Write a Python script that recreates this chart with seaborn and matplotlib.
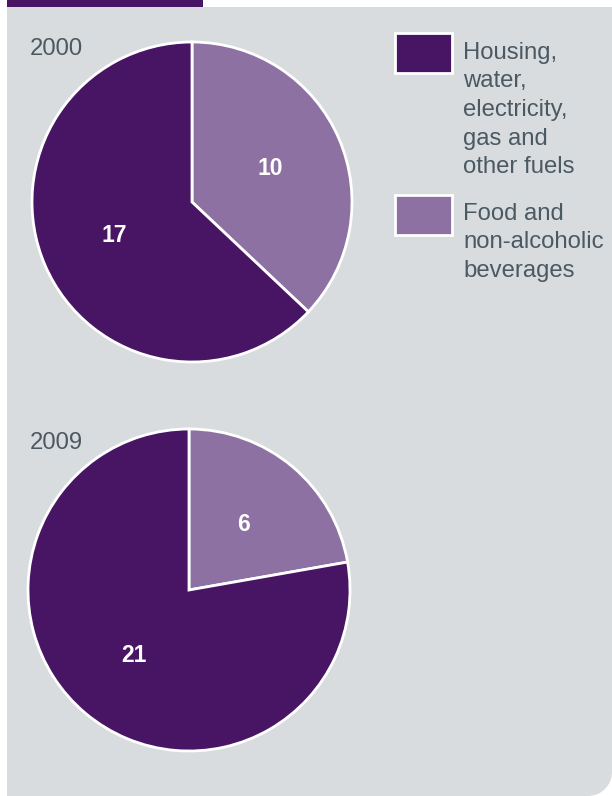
import numpy as np
import matplotlib
matplotlib.use("Agg")
import matplotlib.pyplot as plt
import seaborn as sns
from matplotlib.patches import Rectangle, PathPatch
from matplotlib.path import Path

# ---- data ----
years = ["2000", "2009"]
housing = [17, 21]
food = [10, 6]
categories = ["Housing,\nwater,\nelectricity,\ngas and\nother fuels",
              "Food and\nnon-alcoholic\nbeverages"]

DARK = "#481564"
LIGHT = "#8e71a3"
GREY = "#d9dcdf"
TEXT = "#4b5962"

sns.set_style("white")
plt.rcParams['font.family'] = ['Liberation Sans', 'DejaVu Sans']
palette = sns.color_palette([LIGHT, DARK])

W, H = 612, 796
fig = plt.figure(figsize=(W / 100, H / 100), dpi=100)
fig.patch.set_facecolor("white")


def fx(x):
    return x / W


def fy(y):
    return 1 - y / H


# background panel with rounded bottom-right corner
r = 24
left, top, right, bottom = 7, 7, W, H
verts = [(left, top), (right, top), (right, bottom - r)]
for a in np.linspace(0, -np.pi / 2, 20)[1:]:
    verts.append((right - r + r * np.cos(a), bottom - r - r * np.sin(a)))
verts += [(left, bottom), (left, top)]
verts = [(fx(x), fy(y)) for x, y in verts]
codes = [Path.MOVETO] + [Path.LINETO] * (len(verts) - 2) + [Path.CLOSEPOLY]
fig.patches.append(PathPatch(Path(verts, codes), transform=fig.transFigure,
                             facecolor=GREY, edgecolor="none", zorder=-10))
# top purple bar
fig.patches.append(Rectangle((fx(7), fy(6.5)), fx(203) - fx(7), fy(0) - fy(6.5),
                             transform=fig.transFigure, facecolor=DARK,
                             edgecolor="none", zorder=-9))

centers = [(192, 202, 160), (189, 590, 161)]
label_pos = [(30, 55), (30, 449)]

for i, (cx, cy, rad) in enumerate(centers):
    ax = fig.add_axes([fx(cx - rad), fy(cy + rad), 2 * rad / W, 2 * rad / H])
    ax.set_facecolor("none")
    vals = [food[i], housing[i]]
    wedges, texts = ax.pie(vals, colors=palette, startangle=90, counterclock=False,
                           labels=[str(v) for v in vals], labeldistance=0.53,
                           wedgeprops=dict(edgecolor="white", linewidth=2.0),
                           textprops=dict(color="white", fontsize=16.5,
                                          fontweight="bold", ha="center", va="center"))
    for w in wedges:
        w.set_clip_on(False)
    ax.set_xlim(-1, 1)
    ax.set_ylim(-1, 1)
    ax.set_aspect("equal")
    ax.axis("off")
    fig.text(fx(label_pos[i][0]), fy(label_pos[i][1]), years[i], color=TEXT,
             fontsize=17.2, ha="left", va="baseline")

# legend
leg_colors = [DARK, LIGHT]
patch_tops = [33, 195]
first_baselines = [59, 220]
spacing = 28.5
fs = 17.2
for c, lab, pt, tb in zip(leg_colors, categories, patch_tops, first_baselines):
    fig.patches.append(Rectangle((fx(395), fy(pt + 40)), 57 / W, 40 / H,
                                 transform=fig.transFigure, facecolor=c,
                                 edgecolor="white", linewidth=2.0, zorder=2))
    for k, line in enumerate(lab.split("\n")):
        fig.text(fx(463), fy(tb + k * spacing), line, color=TEXT, fontsize=fs,
                 ha="left", va="baseline")

fig.savefig("out.png", dpi=100)
